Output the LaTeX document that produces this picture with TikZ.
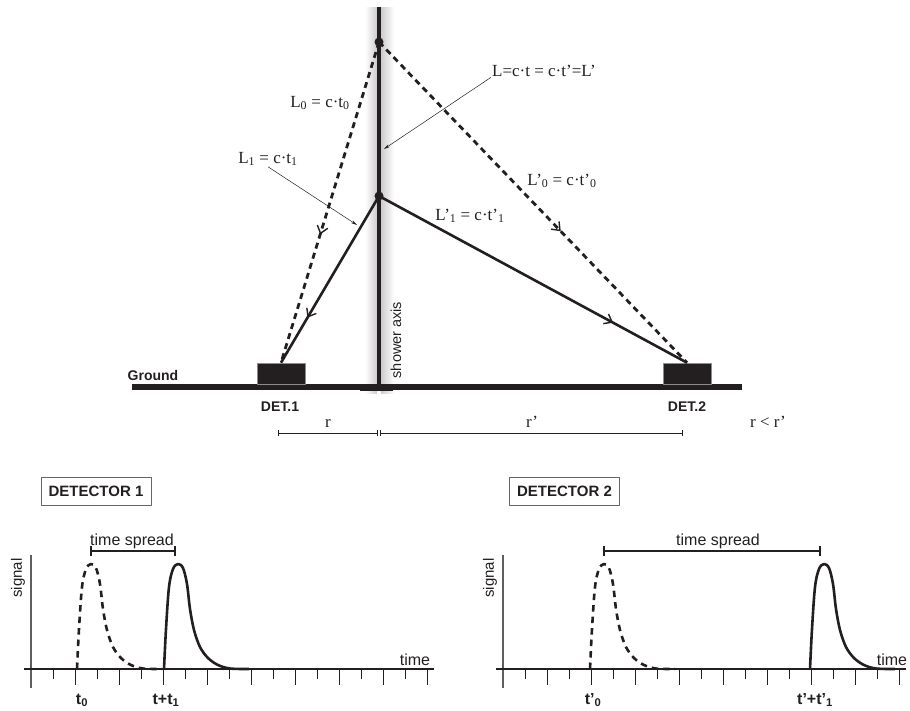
\documentclass[tikz,border=0pt]{standalone}
\usepackage{fontspec}
\setmainfont{Liberation Serif}
\setsansfont{Liberation Sans}
\usetikzlibrary{arrows.meta,decorations.markings,positioning}
\definecolor{InkBlack}{RGB}{35,31,32}
\definecolor{AxisGray}{RGB}{95,95,95}
\newcommand{\serifsize}{\fontsize{17}{20}\selectfont}
\newcommand{\sanssize}[1]{\sffamily\fontsize{#1}{#1}\selectfont}
\tikzset{
  pulse/.pic={\draw[pic actions] plot[smooth,tension=0.55] coordinates {(0,0) (2,-40) (5,-82) (9,-100) (14,-105) (19,-101) (23,-85) (26,-60) (30,-39) (36,-22) (44,-11) (54,-4) (66,-0.5) (85,0)};}
}
\begin{document}
\begin{tikzpicture}[x=1pt,y=-1pt,>=Latex,line join=round,InkBlack,
    lbl/.style={inner sep=1pt,text=InkBlack,font=\serifsize},
    sanslbl/.style={inner sep=1pt,text=InkBlack,font=\sanssize{#1}},
    boldlbl/.style={inner sep=1pt,text=InkBlack,font=\sanssize{#1}\bfseries},
    detbox/.style={draw=black!45,fill=InkBlack,line width=0.6pt,minimum width=48pt,minimum height=21pt,inner sep=0pt},
    titlebox/.style={draw=black!60,line width=0.7pt,minimum width=110pt,minimum height=28pt,inner sep=0pt,font=\sanssize{15}\bfseries},
    ray/.style={line width=2.6pt},
    dashray/.style={line width=2.8pt,dash pattern=on 6pt off 4.5pt},
    midarrow/.style={postaction={decorate},decoration={markings,mark=at position #1 with {\arrow{Straight Barb[length=7pt,width=11pt,line width=1.4pt]}}}},
    pointer/.style={line width=0.5pt,-{Stealth[length=6pt,width=3pt]}},
    dimline/.style={line width=0.8pt,{Bar[width=6pt]}-{Bar[width=6pt]}},
    spread/.style={line width=2pt,{Bar[width=10pt]}-{Bar[width=10pt]}}]
  \useasboundingbox (0,0) rectangle (910,710);

  % shower axis with its shadow
  \shade[left color=white,right color=black!20] (365,7) rectangle (377,393);
  \shade[left color=black!20,right color=white] (381,7) rectangle (394,393);
  \draw[line width=4pt] (379,7) -- (379,388);
  \fill (360,384) rectangle (393,391);
  \draw[line width=6pt] (132,387) -- (742,387);

  \coordinate (A) at (379,42);
  \coordinate (B) at (379,196);
  \node[detbox] (det1) at (281,373.5) {};
  \node[detbox] (det2) at (687,373.5) {};

  \draw[dashray,midarrow=0.6] (A) -- (det1.north);
  \draw[dashray,midarrow=0.59] (A) -- (det2.north);
  \draw[ray,midarrow=0.73] (B) -- (det1.north);
  \draw[ray,midarrow=0.76] (B) -- (det2.north);
  \fill (A) circle (4.5pt);
  \fill (B) circle (4.5pt);

  \node[lbl,anchor=base] (Lzero) at (320,107) {L\textsubscript{0} = c·t\textsubscript{0}};
  \node[lbl,anchor=base] (Lone) at (268,163) {L\textsubscript{1} = c·t\textsubscript{1}};
  \node[lbl,anchor=base] (Lct) at (544,76) {L=c·t = c·t’=L’};
  \node[lbl,anchor=base] (Lpzero) at (562,185) {L’\textsubscript{0} = c·t’\textsubscript{0}};
  \node[lbl,anchor=base] (Lpone) at (470,220) {L’\textsubscript{1} = c·t’\textsubscript{1}};
  \coordinate (pone) at (357,225);
  \coordinate (pax) at (384,149);
  \draw[pointer] (Lone.south) -- (pone);
  \draw[pointer] (Lct.south west) -- (pax);

  \node[sanslbl=14.5,rotate=90] (axislbl) at (396,340) {shower axis};
  \node[boldlbl=14,anchor=base] (ground) at (153,380) {Ground};
  \node[boldlbl=14,anchor=base] (dlbl1) at (280,411) {DET.1};
  \node[boldlbl=14,anchor=base] (dlbl2) at (687,411) {DET.2};

  % distances to the axis
  \coordinate (r0) at (278,433);
  \coordinate (r1) at (378,433);
  \coordinate (r2) at (380,433);
  \coordinate (r3) at (683,433);
  \draw[dimline] (r0) -- (r1);
  \draw[dimline] (r2) -- (r3);
  \node[lbl,anchor=base] (rlbl) at (328,427) {r};
  \node[lbl,anchor=base] (rplbl) at (532,427) {r’};
  \node[lbl,anchor=base] (rcmp) at (768,427) {r < r’};

  % signal panels
  \node[titlebox] (title1) at (96,491) {DETECTOR 1};
  \node[titlebox] (title2) at (564.5,491) {DETECTOR 2};
  \foreach \s in {0,472}{
    \begin{scope}[xshift=\s]
      \draw[line width=2.4pt,AxisGray] (31,555) -- (31,688);
      \draw[line width=2.2pt] (24,669) -- (434,669);
      \foreach \i in {0,2,...,16} \draw[line width=1pt] (53+22*\i,669) -- (53+22*\i,679);
      \foreach \i in {1,3,...,17} \draw[line width=1pt] (53+22*\i,669) -- (53+22*\i,685);
      \node[sanslbl=15,rotate=90] at (18,578) {signal};
    \end{scope}
  }
  \node[sanslbl=16,anchor=base] (time1) at (415,665) {time};
  \node[sanslbl=16,anchor=base] (time2) at (892,665) {time};

  \pic[line width=2.6pt,dash pattern=on 6.5pt off 5pt] at (77,669) {pulse};
  \pic[line width=2.6pt] at (164,669) {pulse};
  \pic[line width=2.6pt,dash pattern=on 6.5pt off 5pt] at (590,669) {pulse};
  \pic[line width=2.6pt] at (810,669) {pulse};

  \coordinate (s0) at (90,551);
  \coordinate (s1) at (176,551);
  \coordinate (s2) at (603,551);
  \coordinate (s3) at (821,551);
  \draw[spread] (s0) -- (s1);
  \draw[spread] (s2) -- (s3);
  \node[sanslbl=16,anchor=base] (spread1) at (132,545) {time spread};
  \node[sanslbl=16,anchor=base] (spread2) at (718,545) {time spread};

  \node[boldlbl=16,anchor=base] (tzero) at (82,704) {t\textsubscript{0}};
  \node[boldlbl=16,anchor=base] (tone) at (166,704) {t+t\textsubscript{1}};
  \node[boldlbl=16,anchor=base] (tpzero) at (593,704) {t’\textsubscript{0}};
  \node[boldlbl=16,anchor=base] (tpone) at (815,704) {t’+t’\textsubscript{1}};
\end{tikzpicture}
\end{document}
